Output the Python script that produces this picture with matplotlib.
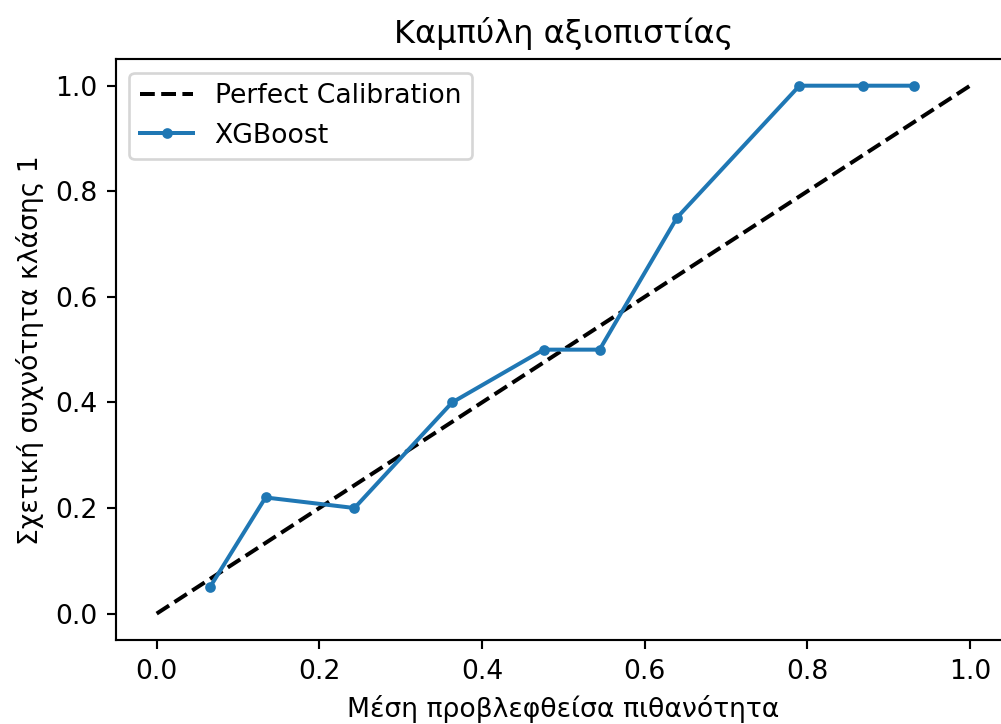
import matplotlib
matplotlib.use("Agg")
import matplotlib.pyplot as plt

# Reliability curve data for the XGBoost model
mean_predicted = [0.0655, 0.1339, 0.2432, 0.3633, 0.4758, 0.5446, 0.6397, 0.7903, 0.8689, 0.9312]
fraction_positives = [0.05, 0.22, 0.20, 0.40, 0.50, 0.50, 0.75, 1.00, 1.00, 1.00]
diagonal = [0.0, 1.0]

title = "Καμπύλη αξιοπιστίας"
xlabel = "Μέση προβλεφθείσα πιθανότητα"
ylabel = "Σχετική συχνότητα κλάσης 1"

dpi = 192
fig = plt.figure(figsize=(1001 / dpi, 724 / dpi), dpi=dpi)
ax = fig.add_axes([116 / 1001, 84 / 724, 894.7 / 1001, 580.7 / 724])

ax.plot(diagonal, diagonal, "k--", label="Perfect Calibration")
ax.plot(mean_predicted, fraction_positives, marker=".", label="XGBoost")

ax.set_title(title)
ax.set_xlabel(xlabel)
ax.set_ylabel(ylabel)
ax.legend(loc="upper left")

fig.savefig("out.png", dpi=dpi)
